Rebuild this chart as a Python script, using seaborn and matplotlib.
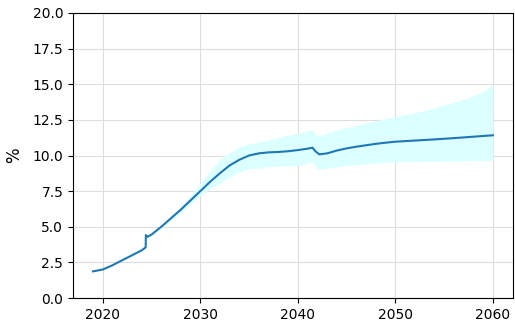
import numpy as np
import pandas as pd
import matplotlib
matplotlib.use("Agg")
import matplotlib.pyplot as plt
import seaborn as sns

# central projection
years = [2019.0, 2020.0, 2021.0, 2022.0, 2023.0, 2024.0, 2024.4, 2024.42, 2024.6,
         2025.0, 2026.0, 2027.0, 2028.0, 2029.0, 2030.0, 2031.0, 2032.0, 2033.0,
         2034.0, 2035.0, 2036.0, 2037.0, 2038.0, 2039.0, 2040.0, 2041.0, 2041.5,
         2041.8, 2042.2, 2043.0, 2044.0, 2045.0, 2046.0, 2047.0, 2048.0, 2049.0,
         2050.0, 2052.0, 2054.0, 2056.0, 2058.0, 2060.0]
values = [1.87, 2.0, 2.3, 2.65, 3.0, 3.35, 3.55, 4.42, 4.3,
          4.45, 5.0, 5.6, 6.2, 6.85, 7.5, 8.15, 8.75, 9.3,
          9.7, 10.0, 10.15, 10.22, 10.25, 10.3, 10.38, 10.48, 10.55,
          10.3, 10.08, 10.15, 10.35, 10.5, 10.62, 10.72, 10.82, 10.9,
          10.97, 11.05, 11.13, 11.22, 11.32, 11.42]

# uncertainty band
band_years = [2024.42, 2025.0, 2026.0, 2027.0, 2028.0, 2029.0, 2030.0, 2031.0,
              2032.0, 2033.0, 2034.0, 2035.0, 2037.0, 2038.5, 2040.0, 2041.5,
              2042.0, 2043.0, 2045.0, 2048.0, 2050.0, 2052.0, 2054.0, 2056.0,
              2057.5, 2059.0, 2059.6, 2060.0]
lower = [4.42, 4.4, 4.95, 5.5, 6.0, 6.6, 7.2, 7.65,
         8.05, 8.5, 8.85, 9.05, 9.2, 9.28, 9.3, 9.55,
         9.0, 9.1, 9.3, 9.47, 9.55, 9.58, 9.6, 9.62,
         9.63, 9.65, 9.65, 9.65]
upper = [4.42, 4.5, 5.1, 5.75, 6.4, 7.2, 8.05, 8.9,
         9.73, 10.2, 10.6, 10.8, 11.1, 11.35, 11.55, 11.8,
         11.35, 11.6, 11.95, 12.45, 12.75, 13.0, 13.35, 13.75,
         14.05, 14.5, 14.75, 15.05]

df = pd.DataFrame({"year": years, "value": values})

fig = plt.figure(figsize=(5.15, 3.25), dpi=100)
ax = fig.add_axes([0.1417, 0.083, 0.8543, 0.877])

ax.fill_between(band_years, lower, upper, color="#dcffff", linewidth=0, zorder=1)
sns.lineplot(data=df, x="year", y="value", color="#1f77b4", linewidth=1.5, ax=ax, zorder=2)

ax.set_ylim(0, 20)
ax.set_yticks(np.arange(0, 20.1, 2.5))
ax.set_xticks([2020, 2030, 2040, 2050, 2060])
ax.margins(x=0.05)
ax.grid(True, color="#dddddd", linewidth=0.8)
ax.set_axisbelow(True)
ax.set_xlabel("")
ax.set_ylabel("%", fontsize=12, labelpad=7)

fig.savefig("out.png", dpi=100)
